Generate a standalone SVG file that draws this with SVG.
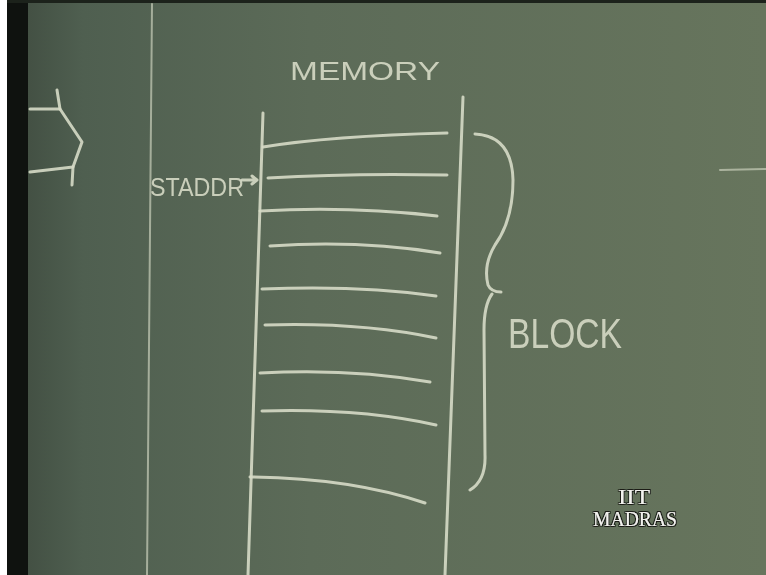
<svg xmlns="http://www.w3.org/2000/svg" width="766" height="575" viewBox="0 0 766 575">
<defs>
<linearGradient id="board" x1="0" y1="0" x2="1" y2="0">
<stop offset="0" stop-color="#3f4b3f"/>
<stop offset="0.1" stop-color="#4f5f50"/>
<stop offset="0.4" stop-color="#5c6b58"/>
<stop offset="1" stop-color="#67755d"/>
</linearGradient>
<filter id="shadow" x="-20%" y="-20%" width="140%" height="140%">
<feMorphology operator="dilate" radius="1" in="SourceAlpha" result="d"/>
<feFlood flood-color="#1a1f18"/>
<feComposite in2="d" operator="in" result="s"/>
<feMerge><feMergeNode in="s"/><feMergeNode in="SourceGraphic"/></feMerge>
</filter>
</defs>
<style>
.chalk{fill:none;stroke:#d6dac6;stroke-width:3;stroke-linecap:round;stroke-linejoin:round;opacity:0.9}
.thin{fill:none;stroke:#c9cfbb;stroke-width:2;stroke-linecap:round;opacity:0.7}
.hand{font-family:"Liberation Sans","DejaVu Sans",sans-serif;fill:#d6dac6;opacity:0.9}
.logo{font-family:"Liberation Serif","DejaVu Serif",serif;fill:#f2f2ee;font-size:20px}
</style>
<rect x="0" y="0" width="766" height="575" fill="#ffffff"/>
<rect x="7" y="0" width="759" height="575" fill="url(#board)"/>
<rect x="7" y="0" width="21" height="575" fill="#0f120f"/>
<rect x="7" y="0" width="759" height="3" fill="#1c221b"/>

<g id="margin-line"><path class="thin" d="M152 4 L147 575"/></g>

<g id="left-sketch">
<path class="chalk" d="M30 109 L60 109"/>
<path class="chalk" d="M57 90 L60 109 L82 142 L73 167 L72 185"/>
<path class="chalk" d="M30 172 L73 167"/>
</g>

<g id="right-dash"><path class="thin" d="M720 170 L766 169" opacity="0.3"/></g>

<g id="memory">
<text class="hand" x="290" y="80" font-size="26" textLength="150" lengthAdjust="spacingAndGlyphs">MEMORY</text>
<path class="chalk" d="M263 113 L248 575"/>
<path class="chalk" d="M463 97 L445 575"/>
<path class="chalk" d="M263 147 Q330 136 447 133"/>
<path class="chalk" d="M268 178 Q350 173 447 175"/>
<path class="chalk" d="M260 211 Q350 206 437 216"/>
<path class="chalk" d="M270 246 Q360 240 440 253"/>
<path class="chalk" d="M262 289 Q360 285 436 296"/>
<path class="chalk" d="M265 325 Q360 322 436 338"/>
<path class="chalk" d="M260 373 Q350 368 430 382"/>
<path class="chalk" d="M262 411 Q360 408 436 425"/>
<path class="chalk" d="M250 477 Q350 478 425 503"/>
</g>

<g id="staddr">
<text class="hand" x="150" y="196" font-size="25" textLength="94" lengthAdjust="spacingAndGlyphs">STADDR</text>
<path class="chalk" d="M242 180 L257 180 M252 176 L257 180 L252 184" stroke-width="2"/>
</g>

<g id="brace">
<path class="chalk" d="M475 134 Q512 136 513 180 Q513 220 495 245 Q483 265 488 285 Q491 292 501 292 M492 294 Q484 305 484 330 L485 455 Q486 480 470 490"/>
</g>

<g id="block">
<text class="hand" x="508" y="348" font-size="42" textLength="114" lengthAdjust="spacingAndGlyphs">BLOCK</text>
</g>

<g id="logo" filter="url(#shadow)">
<text class="logo" x="634" y="504" text-anchor="middle" textLength="32" lengthAdjust="spacingAndGlyphs">IIT</text>
<text class="logo" x="635" y="526" text-anchor="middle" textLength="84" lengthAdjust="spacingAndGlyphs">MADRAS</text>
</g>
</svg>
